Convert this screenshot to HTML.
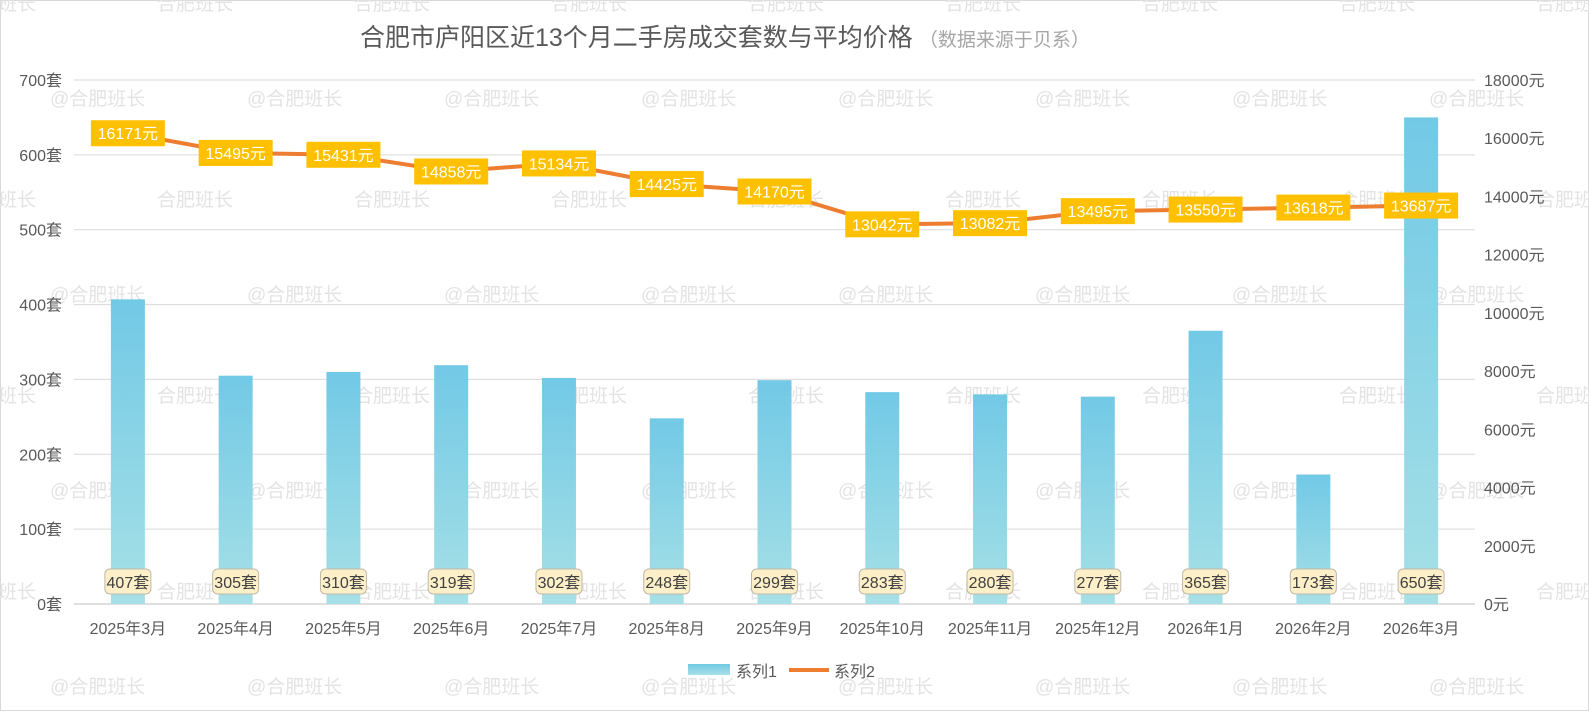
<!DOCTYPE html>
<html><head><meta charset="utf-8">
<style>
body{margin:0;background:#fff;}
svg{display:block;font-family:"Liberation Sans","Noto Sans CJK SC",sans-serif;}
</style></head>
<body>
<svg id="chart" width="1589" height="711" viewBox="0 0 1589 711">
<defs>
<linearGradient id="barGrad" x1="0" y1="0" x2="0" y2="1">
<stop offset="0" stop-color="#72c9e6"/><stop offset="1" stop-color="#a6e0e6"/>
</linearGradient>
</defs>
<rect x="0.5" y="0.5" width="1588" height="710" fill="#fff" stroke="#d9d9d9"/>
<g id="wm"></g>
<g id="grid"></g>
<g id="bars"></g>
<g id="line"></g>
<g id="labels"></g>
<g id="axes"></g>
<text x="360" y="46" font-size="25" fill="#595959">合肥市庐阳区近13个月二手房成交套数与平均价格<tspan font-size="19" fill="#a6a6a6" dx="6">（数据来源于贝系）</tspan></text>
<g>
<rect x="688" y="664" width="42" height="11" fill="url(#barGrad)"/>
<text x="736" y="677" font-size="16" fill="#595959">系列1</text>
<line x1="789" y1="670" x2="829" y2="670" stroke="#ed7d31" stroke-width="4"/>
<text x="834" y="677" font-size="16" fill="#595959">系列2</text>
</g>
</svg>
<script>
const categories=["2025年3月","2025年4月","2025年5月","2025年6月","2025年7月","2025年8月","2025年9月","2025年10月","2025年11月","2025年12月","2026年1月","2026年2月","2026年3月"];
const counts=[407,305,310,319,302,248,299,283,280,277,365,173,650];
const prices=[16171,15495,15431,14858,15134,14425,14170,13042,13082,13495,13550,13618,13687];
const leftTicks=[0,100,200,300,400,500,600,700];
const rightTicks=[0,2000,4000,6000,8000,10000,12000,14000,16000,18000];
const NS="http://www.w3.org/2000/svg";
const plotL=74,plotR=1475,y0=604,yTop=80;
const step=(plotR-plotL)/categories.length;
const xC=i=>plotL+step*(i+0.5);
const yL=v=>y0-v/700*(y0-yTop);
const yR=v=>y0-v/18000*(y0-yTop);
function mk(tag,attrs,parent,text){const e=document.createElementNS(NS,tag);for(const k in attrs)e.setAttribute(k,attrs[k]);if(text!==undefined)e.textContent=text;parent.appendChild(e);return e;}
const wm=document.getElementById('wm');
for(let r=0;r<4;r++){for(let c=0;c<9;c++){
 const t=mk('text',{x:50+197*c,y:105+196*r,'font-size':19,fill:'#e3e3e3'},wm,'@合肥班长');
 
 
 const t2=mk('text',{x:157+197*c-197,y:10+196*r,'font-size':19,fill:'#e3e3e3'},wm,'合肥班长');
 
 
}}
const grid=document.getElementById('grid'),axes=document.getElementById('axes');
leftTicks.forEach(v=>{
 const g=mk('line',{x1:plotL,x2:plotR,y1:yL(v),y2:yL(v),stroke:v===0?'#bfbfbf':'#d9d9d9','stroke-width':1},grid);
 
 
 const t=mk('text',{x:62,y:yL(v)+6,'font-size':16,fill:'#595959','text-anchor':'end'},axes,v+'套');
 
 
});
rightTicks.forEach(v=>{
 const t=mk('text',{x:1484,y:yR(v)+6,'font-size':16,fill:'#595959'},axes,v+'元');
 
 
});
categories.forEach((c,i)=>{
 const t=mk('text',{x:xC(i),y:634,'font-size':16,fill:'#595959','text-anchor':'middle'},axes,c);
 
 
});
const bars=document.getElementById('bars'),labels=document.getElementById('labels');
counts.forEach((v,i)=>{
 const b=mk('rect',{x:xC(i)-17,y:yL(v),width:34,height:y0-yL(v),fill:'url(#barGrad)'},bars);
 
 
 const bx=mk('rect',{x:xC(i)-23,y:569,width:46,height:25,rx:5,fill:'#fdf0c8',stroke:'#bfb8a8'},labels);
 
 
 const t=mk('text',{x:xC(i),y:588,'font-size':16,fill:'#404040','text-anchor':'middle'},labels,v+'套');
 
 
});
const line=document.getElementById('line');
const p=mk('polyline',{points:prices.map((v,i)=>xC(i)+','+yR(v)).join(' '),fill:'none',stroke:'#ed7d31','stroke-width':4,'stroke-linejoin':'round'},line);


prices.forEach((v,i)=>{
 const bx=mk('rect',{x:xC(i)-37,y:yR(v)-13,width:74,height:26,fill:'#ffc000'},labels);
 
 
 const t=mk('text',{x:xC(i),y:yR(v)+6,'font-size':16,fill:'#fff','text-anchor':'middle'},labels,v+'元');
 
 
});
</script>
</body></html>
